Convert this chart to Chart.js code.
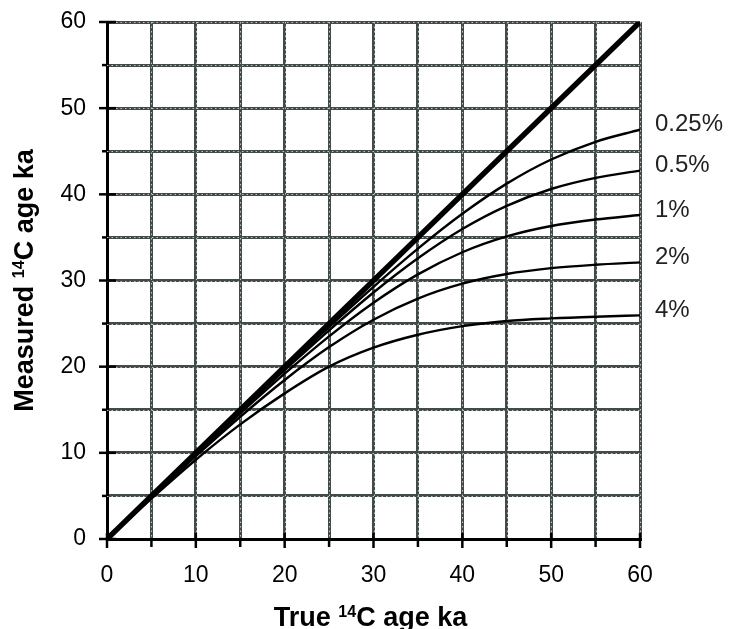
<!DOCTYPE html>
<html>
<head>
<meta charset="utf-8">
<script src="https://cdn.jsdelivr.net/npm/chart.js@4"></script>
<style>
body { margin: 0; background: #fff; }
#wrap { width: 732px; height: 629px; }
</style>
</head>
<body>
<div id="wrap"><canvas id="ageChart" width="732" height="629"></canvas></div>
<script>
// true 14C age (ka)
const trueAge = [0, 5, 10, 15, 20, 25, 30, 35, 40, 45, 50, 55, 60];
// 1:1 line
const lineAge = [0, 60];
// measured age for each level of modern contamination
const contam025 = [0, 4.98, 9.95, 14.89, 19.79, 24.6, 29.27, 33.7, 37.74, 41.24, 44.04, 46.1, 47.5];
const contam05 = [0, 4.97, 9.9, 14.79, 19.59, 24.22, 28.61, 32.58, 35.98, 38.67, 40.62, 41.91, 42.75];
const contam1 = [0, 4.93, 9.81, 14.58, 19.19, 23.52, 27.42, 30.71, 33.28, 35.12, 36.33, 37.08, 37.6];
const contam2 = [0, 4.86, 9.62, 14.19, 18.46, 22.27, 25.45, 27.9, 29.63, 30.75, 31.43, 31.83, 32.1];
const contam4 = [0, 4.7, 9.2, 13.3, 16.9, 20.0, 22.2, 23.7, 24.7, 25.3, 25.6, 25.8, 25.95];
const curveNames = ['0.25%', '0.5%', '1%', '2%', '4%'];
const curveValues = [contam025, contam05, contam1, contam2, contam4];

const gridColor = '#424b49';
const tickFont = { family: '"Liberation Sans", Arial, sans-serif', size: 23, lineHeight: 1.2 };

const toPoints = (xs, ys) => xs.map((v, i) => ({ x: v, y: ys[i] }));

const datasets = curveValues.map((vals, i) => ({
    tag: curveNames[i],
    data: toPoints(trueAge, vals),
    borderColor: '#000',
    borderWidth: 2.4,
    pointRadius: 0,
    cubicInterpolationMode: 'monotone'
}));
datasets.push({
    data: toPoints(lineAge, lineAge),
    borderColor: '#000',
    borderWidth: 5.5,
    pointRadius: 0
});

// light specks along the middle of each grid line
const gridSpecks = {
    id: 'gridSpecks',
    beforeDatasetsDraw(chart) {
        const { ctx, chartArea: a, scales: { x, y } } = chart;
        ctx.save();
        ctx.strokeStyle = '#bcc4c1';
        ctx.lineWidth = 1;
        ctx.setLineDash([1.5, 3]);
        x.ticks.forEach(t => {
            if (t.value === 0) return;
            const px = Math.round(x.getPixelForValue(t.value)) + 0.5;
            ctx.beginPath(); ctx.moveTo(px, a.top); ctx.lineTo(px, a.bottom); ctx.stroke();
        });
        y.ticks.forEach(t => {
            if (t.value === 0) return;
            const py = Math.round(y.getPixelForValue(t.value)) + 0.5;
            ctx.beginPath(); ctx.moveTo(a.left, py); ctx.lineTo(a.right, py); ctx.stroke();
        });
        ctx.restore();
    }
};

// tick marks: long ones at 10s, short ones at 5s
const tickMarks = {
    id: 'tickMarks',
    afterDraw(chart) {
        const { ctx, scales: { x, y } } = chart;
        ctx.save();
        ctx.strokeStyle = '#000';
        ctx.lineWidth = 2.5;
        y.ticks.forEach(t => {
            const py = y.getPixelForValue(t.value);
            const major = t.value % 10 === 0;
            ctx.beginPath();
            ctx.moveTo(y.right - (major ? 8 : 5), py);
            ctx.lineTo(y.right + (major ? 9 : 0), py);
            ctx.stroke();
        });
        x.ticks.forEach(t => {
            const px = x.getPixelForValue(t.value);
            const major = t.value % 10 === 0;
            ctx.beginPath();
            ctx.moveTo(px, x.top - (major ? 6 : 0));
            ctx.lineTo(px, x.top + (major ? 9 : 8));
            ctx.stroke();
        });
        ctx.restore();
    }
};

// percentage labels at the right end of each curve
const curveLabels = {
    id: 'curveLabels',
    afterDatasetsDraw(chart) {
        const { ctx, chartArea, scales: { y } } = chart;
        ctx.save();
        ctx.font = '24px "Liberation Sans", Arial, sans-serif';
        ctx.fillStyle = '#222';
        ctx.textBaseline = 'middle';
        chart.data.datasets.forEach(ds => {
            if (!ds.tag) return;
            const last = ds.data[ds.data.length - 1];
            ctx.fillText(ds.tag, chartArea.right + 15, y.getPixelForValue(last.y) - 5);
        });
        ctx.restore();
    }
};

// axis titles with superscript 14
function drawTitle(ctx, parts, cx, baseY) {
    const big = 'bold 27px "Liberation Sans", Arial, sans-serif';
    const small = 'bold 16px "Liberation Sans", Arial, sans-serif';
    let total = 0;
    parts.forEach(p => { ctx.font = p.sup ? small : big; total += ctx.measureText(p.t).width; });
    let px = cx - total / 2;
    ctx.textAlign = 'left';
    ctx.textBaseline = 'alphabetic';
    parts.forEach(p => {
        ctx.font = p.sup ? small : big;
        ctx.fillText(p.t, px, baseY - (p.sup ? 9 : 0));
        px += ctx.measureText(p.t).width;
    });
}
const axisTitles = {
    id: 'axisTitles',
    afterDraw(chart) {
        const { ctx, chartArea } = chart;
        ctx.save();
        ctx.fillStyle = '#000';
        drawTitle(ctx, [{ t: 'True ' }, { t: '14', sup: true }, { t: 'C age ka' }],
            (chartArea.left + chartArea.right) / 2 - 3, 626);
        ctx.translate(33, (chartArea.top + chartArea.bottom) / 2);
        ctx.rotate(-Math.PI / 2);
        drawTitle(ctx, [{ t: 'Measured ' }, { t: '14', sup: true }, { t: 'C age ka' }], 0, 0);
        ctx.restore();
    }
};

const ctx1 = document.getElementById('ageChart');
new Chart(ctx1, {
    type: 'line',
    data: { datasets: datasets },
    plugins: [gridSpecks, tickMarks, curveLabels, axisTitles],
    options: {
        responsive: false,
        animation: false,
        layout: { padding: { left: 0, right: 92, top: 22, bottom: 0 } },
        plugins: { legend: { display: false }, tooltip: { enabled: false } },
        scales: {
            x: {
                type: 'linear',
                min: 0,
                max: 60,
                afterFit: s => { s.height = 90; s.paddingLeft = 0; s.paddingRight = 0; },
                ticks: {
                    stepSize: 5,
                    padding: 23,
                    color: '#000',
                    font: tickFont,
                    maxRotation: 0,
                    callback: v => (v % 10 === 0 ? v : '')
                },
                grid: {
                    color: c => (c.tick && c.tick.value === 0 ? 'rgba(0,0,0,0)' : gridColor),
                    lineWidth: 3,
                    drawTicks: false
                },
                border: { color: '#000', width: 3 }
            },
            y: {
                min: 0,
                max: 60,
                afterFit: s => { s.width = 107; s.paddingTop = 0; s.paddingBottom = 0; },
                ticks: {
                    stepSize: 5,
                    padding: 21,
                    color: '#000',
                    font: tickFont,
                    callback: v => (v % 10 === 0 ? v : '')
                },
                grid: {
                    color: c => (c.tick && c.tick.value === 0 ? 'rgba(0,0,0,0)' : gridColor),
                    lineWidth: 3,
                    drawTicks: false
                },
                border: { color: '#000', width: 3 }
            }
        }
    }
});
</script>
</body>
</html>
